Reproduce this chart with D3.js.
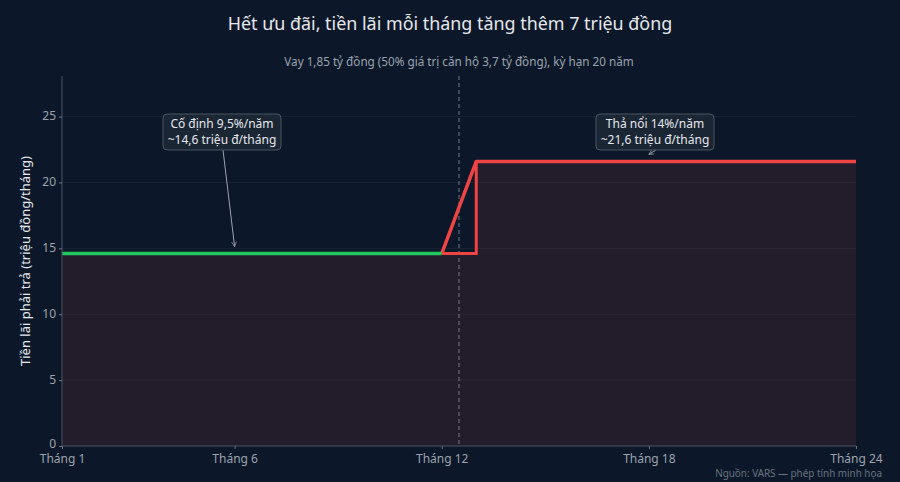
<!DOCTYPE html>
<html><head><meta charset="utf-8">
<script src="https://cdn.jsdelivr.net/npm/d3@7"></script>
<style>
html,body{margin:0;padding:0;background:#0c1829;}
svg{display:block;font-family:"Noto Sans","Open Sans",sans-serif;}
</style></head>
<body><svg id="c" width="900" height="482"></svg>
<script>
// ---- data ----
const tickMonths = [1, 6, 12, 18, 24];
const tickLabels = ["Tháng 1", "Tháng 6", "Tháng 12", "Tháng 18", "Tháng 24"];
const yTicks = [0, 5, 10, 15, 20, 25];
const fixedMonths = [1, 12];
const fixedValues = [14.6, 14.6];
const floatMonths = [12, 13, 24];
const floatValues = [14.6, 21.6, 21.6];
const stepMonths = [12, 13, 13];
const stepValues = [14.6, 14.6, 21.6];
const fillMonths = [1, 13, 13, 24];
const fillValues = [14.6, 14.6, 21.6, 21.6];
const switchMonth = 12.5;
const yMax = 28.08;

const svg = d3.select("#c");
const W = 900, H = 482;
const m = {l:62, r:44, t:76, b:36};
const x = d3.scaleLinear().domain([1, 24]).range([m.l, W - m.r]);
const y = d3.scaleLinear().domain([0, yMax]).range([H - m.b, m.t]);

// gridlines
svg.append("g").selectAll("line").data(yTicks.filter(d => d > 0)).join("line")
  .attr("x1", m.l).attr("x2", W - m.r)
  .attr("y1", d => y(d)).attr("y2", d => y(d))
  .attr("stroke", "#ffffff").attr("stroke-opacity", 0.05);

// fill
const fillPts = fillMonths.map((d, i) => [d, fillValues[i]]);
svg.append("path").datum(fillPts)
  .attr("d", d3.area().x(d => x(d[0])).y0(y(0)).y1(d => y(d[1])))
  .attr("fill", "#ef4444").attr("fill-opacity", 0.1);

// switch dashed line
svg.append("line")
  .attr("x1", x(switchMonth)).attr("x2", x(switchMonth))
  .attr("y1", m.t).attr("y2", y(0))
  .attr("stroke", "#9ca3af").attr("stroke-opacity", 0.7).attr("stroke-dasharray", "4,3").attr("stroke-width", 1);

const line = d3.line().x(d => x(d[0])).y(d => y(d[1]));
// red lines
svg.append("path").datum(stepMonths.map((d, i) => [d, stepValues[i]]))
  .attr("d", line).attr("fill", "none").attr("stroke", "#ef4444").attr("stroke-width", 3);
svg.append("path").datum(floatMonths.map((d, i) => [d, floatValues[i]]))
  .attr("d", line).attr("fill", "none").attr("stroke", "#ef4444").attr("stroke-width", 3.5).attr("stroke-linejoin", "round");
// green line
svg.append("path").datum(fixedMonths.map((d, i) => [d, fixedValues[i]]))
  .attr("d", line).attr("fill", "none").attr("stroke", "#22c55e").attr("stroke-width", 3.5);

// axes
const xAxis = svg.append("g").attr("transform", `translate(0,${y(0)})`)
  .call(d3.axisBottom(x).tickValues(tickMonths).tickFormat((d, i) => tickLabels[i]).tickSize(3).tickPadding(5));
const yAxis = svg.append("g").attr("transform", `translate(${m.l},0)`)
  .call(d3.axisLeft(y).tickValues(yTicks).tickSize(3).tickPadding(3));
[xAxis, yAxis].forEach(a => {
  a.select(".domain").attr("stroke", "#4b5563");
  a.selectAll(".tick line").attr("stroke", "#6b7280");
  a.selectAll(".tick text").attr("fill", "#9ca3af").attr("font-size", 12).attr("font-family", "Noto Sans");
});
yAxis.selectAll(".tick text").attr("dy", d => d === 0 ? "0.1em" : "0.28em");
yAxis.select(".domain").attr("d", `M0,${m.t}V${y(0)}`);
xAxis.select(".domain").attr("d", `M${m.l},0H${W - m.r}`);

// titles
svg.append("text").attr("x", 450).attr("y", 30).attr("text-anchor", "middle")
  .attr("fill", "#e5e7eb").attr("font-size", 17.9)
  .text("Hết ưu đãi, tiền lãi mỗi tháng tăng thêm 7 triệu đồng");
svg.append("text").attr("x", 459).attr("y", 66).attr("text-anchor", "middle")
  .attr("fill", "#9ca3af").attr("font-size", 11.7)
  .text("Vay 1,85 tỷ đồng (50% giá trị căn hộ 3,7 tỷ đồng), kỳ hạn 20 năm");
svg.append("text").attr("transform", `translate(30,${(m.t + y(0)) / 2}) rotate(-90)`)
  .attr("text-anchor", "middle").attr("fill", "#e5e7eb").attr("font-size", 13)
  .text("Tiền lãi phải trả (triệu đồng/tháng)");
svg.append("text").attr("x", 882).attr("y", 477).attr("text-anchor", "end")
  .attr("fill", "#6b7280").attr("font-size", 9.9)
  .text("Nguồn: VARS — phép tính minh họa");

// annotations
const defs = svg.append("defs");
defs.append("marker").attr("id", "arr").attr("viewBox", "0 0 10 10").attr("refX", 9).attr("refY", 5)
  .attr("markerWidth", 6).attr("markerHeight", 6).attr("orient", "auto-start-reverse")
  .append("path").attr("d", "M1,1L9,5L1,9").attr("fill", "none").attr("stroke", "#9ca3af").attr("stroke-width", 1.2);

function annot(cx, topY, lines, tx, ty) {
  const g = svg.append("g");
  const w = 118, h = 36;
  g.append("line").attr("x1", cx + 1).attr("y1", topY + h).attr("x2", x(tx)).attr("y2", y(ty) - 7)
    .attr("stroke", "#9ca3af").attr("stroke-width", 1).attr("marker-end", "url(#arr)");
  g.append("rect").attr("x", cx - w / 2).attr("y", topY).attr("width", w).attr("height", h)
    .attr("rx", 4).attr("fill", "#1f2937").attr("fill-opacity", 0.85)
    .attr("stroke", "#4b5563").attr("stroke-width", 1);
  lines.forEach((t, i) => g.append("text").attr("x", cx).attr("y", topY + 14 + i * 16)
    .attr("text-anchor", "middle").attr("fill", "#e5e7eb").attr("font-size", 12).text(t));
}
annot(222, 114, ["Cố định 9,5%/năm", "~14,6 triệu đ/tháng"], 6, 14.6);
annot(655, 114, ["Thả nổi 14%/năm", "~21,6 triệu đ/tháng"], 18, 21.6);
</script></body></html>
